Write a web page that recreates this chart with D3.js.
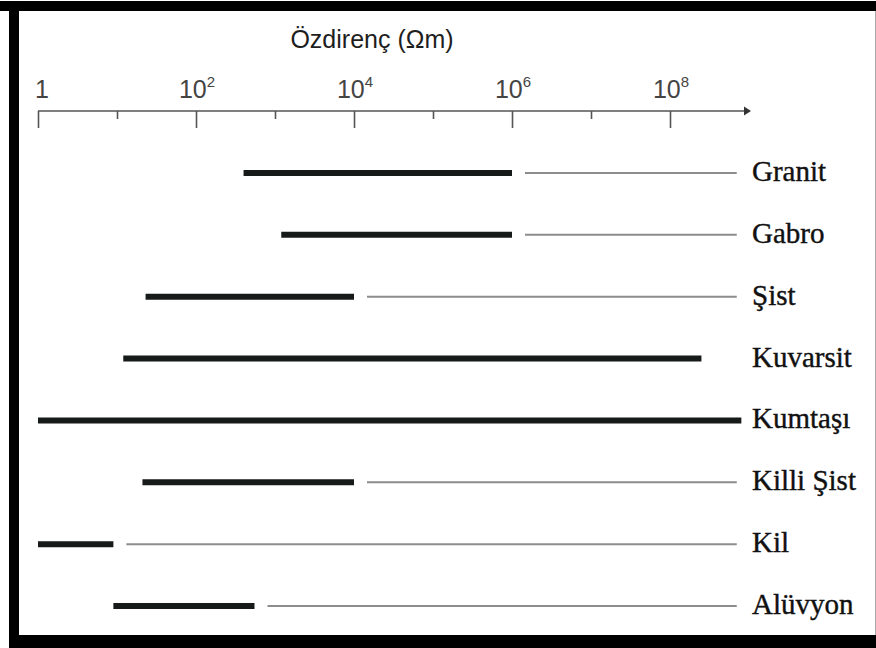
<!DOCTYPE html>
<html>
<head>
<meta charset="utf-8">
<script src="https://cdn.jsdelivr.net/npm/d3@7"></script>
<style>
  html, body { margin: 0; padding: 0; background: #fff; }
  svg { display: block; }
  .axis-title { font-family: "Liberation Sans", Arial, sans-serif; font-size: 25px; fill: #1e1e1e; }
  .tick-label { font-family: "Liberation Sans", Arial, sans-serif; font-size: 25px; fill: #444; }
  .rock-label { font-family: "Liberation Serif", "Times New Roman", serif; font-size: 29px; fill: #111; stroke: #111; stroke-width: 0.4px; }
</style>
</head>
<body>
<div id="chart"></div>
<script>
const rocks = ['Granit', 'Gabro', 'Şist', 'Kuvarsit', 'Kumtaşı', 'Killi Şist', 'Kil', 'Alüvyon'];
// common range (thick bar), in ohm-m
const commonMin = [400, 1200, 23, 12, 1, 21, 1, 9];
const commonMax = [1e6, 1e6, 1e4, 2.5e8, 8e8, 1e4, 9, 550];
// extended range (thin line), null when none
const extendedMax = [7e8, 7e8, 7e8, null, null, 7e8, 7e8, 7e8];

const majorTicks = [1, 1e2, 1e4, 1e6, 1e8];
const tickExponents = [null, 2, 4, 6, 8];
const minorTicks = [10, 1e3, 1e5, 1e7];
const axisTitle = 'Özdirenç (Ωm)';

const canvasWidth = 876;
const canvasHeight = 648;

const data = rocks.map((name, i) => ({
  name,
  lo: commonMin[i],
  hi: commonMax[i],
  ext: extendedMax[i],
}));

const svg = d3.select('#chart')
  .append('svg')
    .attr('width', canvasWidth)
    .attr('height', canvasHeight)
    .attr('viewBox', `0 0 ${canvasWidth} ${canvasHeight}`);

// scales
const x = d3.scaleLog()
  .domain([1, 1e8])
  .range([38, 670]);
const y = d3.scalePoint()
  .domain(rocks)
  .range([173, 606]);

// frame
svg.append('rect').attr('x', 0).attr('y', 1).attr('width', canvasWidth).attr('height', 10).attr('fill', '#000');
svg.append('rect').attr('x', 9).attr('y', 1).attr('width', 10).attr('height', canvasHeight).attr('fill', '#000');
svg.append('rect').attr('x', 9).attr('y', 635).attr('width', canvasWidth).attr('height', 13).attr('fill', '#000');
svg.append('line')
  .attr('x1', 875.5).attr('x2', 875.5).attr('y1', 11).attr('y2', 635)
  .attr('stroke', '#aaa').attr('stroke-width', 1);

// axis
const axisY = 111;
const axis = svg.append('g').attr('class', 'axis');

axis.append('line')
  .attr('x1', x(1)).attr('x2', 744)
  .attr('y1', axisY).attr('y2', axisY)
  .attr('stroke', '#555').attr('stroke-width', 1.6);
axis.append('path')
  .attr('d', `M744,${axisY - 4.5}L751,${axisY}L744,${axisY + 4.5}Z`)
  .attr('fill', '#333');

const major = d3.axisBottom(x).tickValues(majorTicks).tickSize(17).tickFormat('');
const minor = d3.axisBottom(x).tickValues(minorTicks).tickSize(8).tickFormat('');
[major, minor].forEach(a => {
  const g = axis.append('g')
    .attr('transform', `translate(0, ${axisY})`)
    .call(a);
  g.select('.domain').remove();
  g.selectAll('.tick line').attr('stroke', '#555').attr('stroke-width', 1.6);
});

const labels = axis.selectAll('.tick-label')
  .data(majorTicks.map((v, i) => ({ v, e: tickExponents[i] })))
  .enter()
  .append('text')
    .attr('class', 'tick-label')
    .attr('x', d => x(d.v) + (d.e === null ? 4 : 1))
    .attr('y', 98)
    .attr('text-anchor', 'middle');
labels.append('tspan').text(d => (d.e === null ? '1' : '10'));
labels.filter(d => d.e !== null)
  .append('tspan')
    .attr('dy', -11)
    .attr('font-size', 15)
    .text(d => d.e);

svg.append('text')
  .attr('class', 'axis-title')
  .attr('x', 372)
  .attr('y', 48)
  .attr('text-anchor', 'middle')
  .text(axisTitle);

// ranges
const gap = 13;
const rows = svg.append('g').attr('class', 'ranges');

rows.selectAll('.ext')
  .data(data.filter(d => d.ext !== null))
  .enter()
  .append('line')
    .attr('class', 'ext')
    .attr('x1', d => x(d.hi) + gap)
    .attr('x2', d => x(d.ext))
    .attr('y1', d => y(d.name))
    .attr('y2', d => y(d.name))
    .attr('stroke', '#8d8d8d')
    .attr('stroke-width', 2);

rows.selectAll('.common')
  .data(data)
  .enter()
  .append('line')
    .attr('class', 'common')
    .attr('x1', d => x(d.lo))
    .attr('x2', d => x(d.hi))
    .attr('y1', d => y(d.name))
    .attr('y2', d => y(d.name))
    .attr('stroke', '#161b1a')
    .attr('stroke-width', 6)
    .attr('stroke-linecap', 'butt');

rows.selectAll('.rock-label')
  .data(data)
  .enter()
  .append('text')
    .attr('class', 'rock-label')
    .attr('x', 752)
    .attr('y', d => y(d.name) + 8)
    .text(d => d.name);
</script>
</body>
</html>
